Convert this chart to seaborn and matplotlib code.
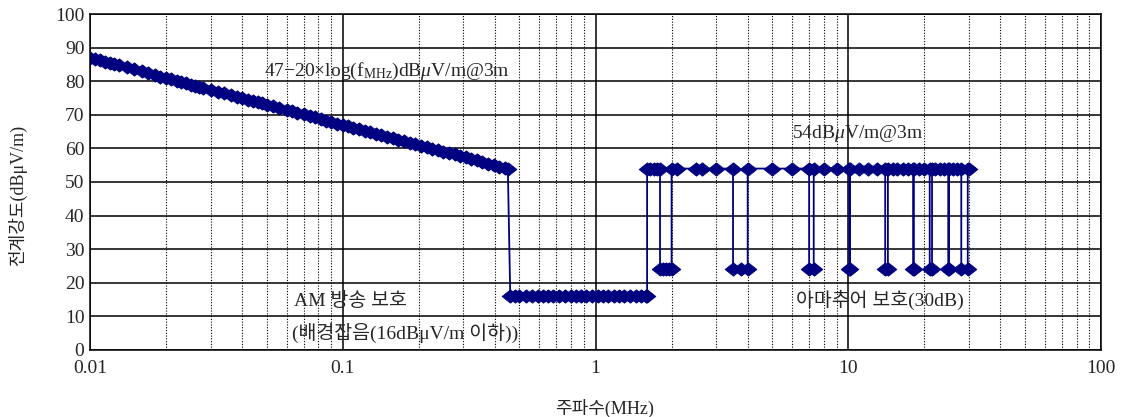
import numpy as np
import pandas as pd
import matplotlib
matplotlib.use('Agg')
import matplotlib.pyplot as plt
from matplotlib.path import Path
from matplotlib.ticker import LogLocator, FixedLocator, FixedFormatter, NullFormatter
import seaborn as sns

# sloped limit 47-20log(f), 0.01 - 0.45 MHz
slope_freq = [0.010, 0.0105, 0.011, 0.0115, 0.012, 0.0125, 0.013, 0.014, 0.015, 0.016,
              0.017, 0.018, 0.019, 0.020, 0.021, 0.022, 0.023, 0.024, 0.025, 0.026,
              0.027, 0.028, 0.030, 0.032, 0.034, 0.036, 0.038, 0.040, 0.042, 0.044,
              0.046, 0.048, 0.050, 0.053, 0.056, 0.060, 0.063, 0.066, 0.070, 0.074,
              0.078, 0.082, 0.086, 0.090, 0.095, 0.100, 0.105, 0.110, 0.116, 0.122,
              0.128, 0.135, 0.142, 0.150, 0.158, 0.166, 0.175, 0.184, 0.194, 0.204,
              0.215, 0.226, 0.238, 0.250, 0.263, 0.277, 0.291, 0.306, 0.322, 0.339,
              0.357, 0.375, 0.395, 0.415, 0.437, 0.450]
slope_level = [87.0, 86.6, 86.2, 85.8, 85.4, 85.1, 84.7, 84.1, 83.5, 82.9,
               82.4, 81.9, 81.4, 81.0, 80.6, 80.2, 79.8, 79.4, 79.0, 78.7,
               78.4, 78.1, 77.5, 76.9, 76.4, 75.9, 75.4, 75.0, 74.5, 74.1,
               73.7, 73.4, 73.0, 72.5, 72.0, 71.4, 71.0, 70.6, 70.1, 69.6,
               69.2, 68.7, 68.3, 67.9, 67.4, 67.0, 66.6, 66.2, 65.7, 65.3,
               64.9, 64.4, 64.0, 63.5, 63.0, 62.6, 62.1, 61.7, 61.2, 60.8,
               60.4, 59.9, 59.5, 59.0, 58.6, 58.2, 57.7, 57.3, 56.8, 56.4,
               55.9, 55.5, 55.1, 54.6, 54.2, 53.9]

# AM broadcast band, background noise 16 dBuV/m
am_freq = [0.46, 0.48, 0.50, 0.53, 0.56, 0.59, 0.62, 0.65, 0.68, 0.72, 0.76, 0.80,
           0.84, 0.88, 0.92, 0.97, 1.02, 1.07, 1.12, 1.18, 1.24, 1.30, 1.37, 1.44,
           1.51, 1.58, 1.60]
am_level = [16] * len(am_freq)

# 54 dBuV/m above 1.6 MHz with amateur bands at 24 (30 dB protection)
hf_freq = [1.60, 1.65, 1.70, 1.75, 1.80, 1.80, 1.85, 1.90, 1.95, 2.00, 2.00, 2.10,
           2.50, 2.65, 3.00, 3.50, 3.50, 3.75, 4.00, 4.00, 5.00, 6.00,
           7.00, 7.00, 7.30, 7.30, 8.00, 9.00, 10.10, 10.10, 10.15, 10.15,
           11.0, 12.0, 13.0, 14.0, 14.0, 14.35, 14.35, 15.0, 15.6, 16.5, 17.2,
           18.068, 18.068, 18.168, 18.168, 19.0, 20.0, 21.0, 21.0, 21.45, 21.45,
           22.0, 23.0, 24.0, 24.89, 24.89, 24.99, 24.99, 26.0, 27.0,
           28.0, 28.0, 29.7, 29.7, 30.0]
hf_level = [54, 54, 54, 54, 54, 24, 24, 24, 24, 24, 54, 54,
            54, 54, 54, 54, 24, 24, 24, 54, 54, 54,
            54, 24, 24, 54, 54, 54, 54, 24, 24, 54,
            54, 54, 54, 54, 24, 24, 54, 54, 54, 54, 54,
            54, 24, 24, 54, 54, 54, 54, 24, 24, 54,
            54, 54, 54, 54, 24, 24, 54, 54, 54,
            54, 24, 24, 54, 54]

df = pd.DataFrame({
    'freq': slope_freq + am_freq + hf_freq,
    'level': slope_level + am_level + hf_level,
})

sns.set_style('white')
plt.rcParams['font.family'] = ['Liberation Serif', 'Noto Sans CJK KR']
plt.rcParams['mathtext.fontset'] = 'custom'
plt.rcParams['mathtext.rm'] = 'Liberation Serif'
plt.rcParams['mathtext.it'] = 'Liberation Serif:italic'
plt.rcParams['mathtext.default'] = 'rm'
fnt = ['Liberation Serif', 'Noto Sans CJK KR']

fig = plt.figure(figsize=(11.22, 4.17), dpi=100)
ax = fig.add_axes([0.0802, 0.1607, 0.9011, 0.8057])

diamond = Path([(-1, 0), (0, 0.8), (1, 0), (0, -0.8), (-1, 0)],
               [Path.MOVETO, Path.LINETO, Path.LINETO, Path.LINETO, Path.CLOSEPOLY])

sns.lineplot(data=df, x='freq', y='level', sort=False, estimator=None, ax=ax,
             color='#000080', lw=1.3, marker=diamond, markersize=12,
             markeredgewidth=0.6, markeredgecolor='#000080',
             markerfacecolor='#000080')

ax.set_xscale('log')
ax.set_xlim(0.01, 100)
ax.set_ylim(0, 100)
ax.set_yticks(range(0, 101, 10))
ax.xaxis.set_major_locator(FixedLocator([0.01, 0.1, 1, 10, 100]))
ax.xaxis.set_major_formatter(FixedFormatter(['0.01', '0.1', '1', '10', '100']))
ax.xaxis.set_minor_locator(LogLocator(base=10, subs=np.arange(2, 10)))
ax.xaxis.set_minor_formatter(NullFormatter())
ax.grid(True, which='major', axis='both', color='black', lw=1.1, ls='-')
ax.grid(True, which='minor', axis='x', color='black', lw=0.8, ls=(0, (1, 1.5)))
ax.set_axisbelow(True)
ax.tick_params(axis='y', which='both', length=0, labelsize=14, pad=4)
ax.tick_params(axis='x', which='both', length=0, labelsize=14, pad=7)
for sp in ax.spines.values():
    sp.set_color('black')
    sp.set_linewidth(1.1)

ax.set_xlabel('주파수(MHz)', fontsize=13, family=fnt, va='center', ha='center')
ax.xaxis.set_label_coords(0.509, -0.173)
ax.set_ylabel('전계강도(dBμV/m)', fontsize=13, family=fnt, va='center', ha='center')
ax.yaxis.set_label_coords(-0.072, 0.461)

ax.text(0.049, 83, r'47−20×log(f$_\mathregular{MHz}$)dB$\mathit{\mu}$V/m@3m',
        fontsize=14, ha='left', va='center')
ax.text(6.0, 64.5, r'54dB$\mathit{\mu}$V/m@3m', fontsize=14, ha='left', va='center')
ax.text(0.064, 14.5, 'AM 방송 보호', fontsize=14, ha='left', va='center', family=fnt)
ax.text(0.063, 5, '(배경잡음(16dBμV/m 이하))', fontsize=14,
        ha='left', va='center', family=fnt)
ax.text(6.2, 15, '아마추어 보호(30dB)', fontsize=14, ha='left', va='center', family=fnt)

fig.savefig('out.png', dpi=100)
